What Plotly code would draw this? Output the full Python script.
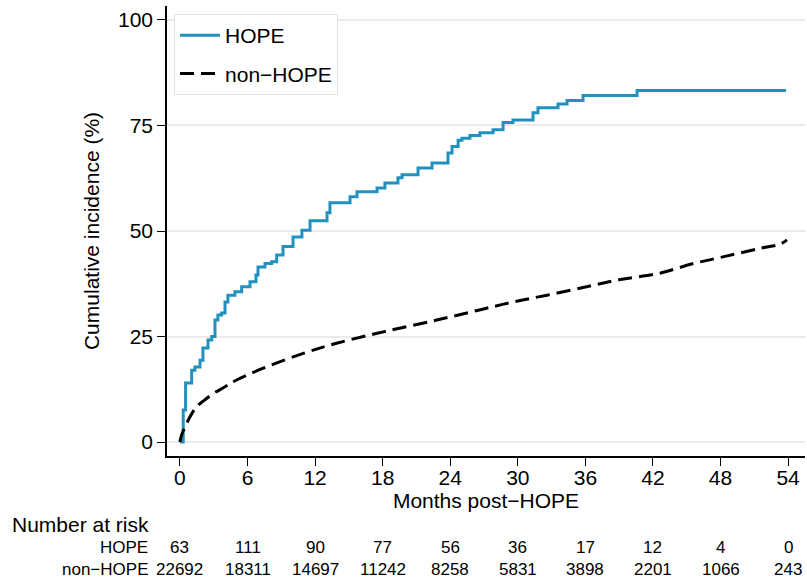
import plotly.graph_objects as go

# HOPE cumulative incidence (step function): month, percent
hope_t = [0, 0.29, 0.5, 1.04, 1.33, 1.78, 2.04, 2.49, 2.82, 3.11, 3.37, 3.70, 4.0, 4.26, 4.88,
          5.48, 6.22, 6.75, 6.93, 7.55, 8.14, 8.59, 9.15, 10.04, 10.83, 11.55, 13.06, 13.32,
          15.1, 15.72, 17.5, 18.2, 19.36, 19.72, 21.14, 22.38, 23.8, 24.16, 24.7, 25.04, 25.75,
          26.64, 27.8, 28.69, 29.57, 31.35, 31.79, 33.57, 34.37, 35.79, 40.59, 53.82]
hope_y = [0, 7.6, 14, 17, 17.8, 19.4, 22.3, 24.2, 25, 28.9, 30.1, 30.6, 33.2, 34.8, 35.6,
          36.8, 38, 39.6, 41.5, 42.3, 42.7, 44.3, 46.3, 48.6, 50.2, 52.4, 54.3, 56.7,
          58.1, 59.3, 60.2, 61.4, 62.6, 63.3, 64.9, 66.1, 68.5, 70, 71.5, 72, 72.6,
          73.3, 74, 75.7, 76.3, 78, 79.2, 80.1, 80.9, 82.1, 83.3, 83.3]

# non-HOPE cumulative incidence
non_t = [0, 0.1, 0.3, 0.59, 1.0, 1.48, 2.2, 2.96, 4.0, 5.03, 7.4, 10.95, 13.9, 18.06, 22.8,
         26.6, 29.6, 32.6, 36.1, 39.1, 42.6, 45.6, 48.6, 51.5, 53.3, 53.9]
non_y = [0, 1.3, 2.7, 4.4, 6.5, 8.4, 10.0, 11.5, 13.1, 14.7, 17.5, 21.0, 23.4, 26.1, 28.9,
         31.3, 33.2, 34.8, 36.8, 38.5, 40.0, 42.3, 44.1, 45.9, 46.9, 47.9]

x_ticks = [0, 6, 12, 18, 24, 30, 36, 42, 48, 54]
y_ticks = [0, 25, 50, 75, 100]
risk_hope = [63, 111, 90, 77, 56, 36, 17, 12, 4, 0]
risk_non = [22692, 18311, 14697, 11242, 8258, 5831, 3898, 2201, 1066, 243]

FONT = "Liberation Sans, Arial, sans-serif"
BLUE = "#2192bf"

fig = go.Figure()
fig.add_trace(go.Scatter(x=hope_t, y=hope_y, mode="lines", name="HOPE",
                         line=dict(color=BLUE, width=3, shape="hv"), legendgroup="a"))
fig.add_trace(go.Scatter(x=non_t, y=non_y, mode="lines", name="non\u2212HOPE",
                         line=dict(color="black", width=3, dash="14px,7px", shape="spline"),
                         legendgroup="b"))

ann = []
ann.append(dict(text="Number at risk", xref="paper", yref="paper", x=-0.246, y=-0.153,
                xanchor="left", yanchor="middle", showarrow=False,
                font=dict(size=21, color="black", family=FONT)))
for lbl, yy in [("HOPE", -0.204), ("non\u2212HOPE", -0.253)]:
    ann.append(dict(text=lbl, xref="paper", yref="paper", x=-0.026, y=yy,
                    xanchor="right", yanchor="middle", showarrow=False,
                    font=dict(size=17, color="black", family=FONT)))
for xt, a, b in zip(x_ticks, risk_hope, risk_non):
    ann.append(dict(text=str(a), xref="x", yref="paper", x=xt, y=-0.204,
                    xanchor="center", yanchor="middle", showarrow=False,
                    font=dict(size=17, color="black", family=FONT)))
    ann.append(dict(text=str(b), xref="x", yref="paper", x=xt, y=-0.253,
                    xanchor="center", yanchor="middle", showarrow=False,
                    font=dict(size=17, color="black", family=FONT)))

fig.update_layout(
    width=807, height=585,
    margin=dict(l=167, r=2, t=6, b=129, autoexpand=False),
    plot_bgcolor="white", paper_bgcolor="white",
    font=dict(family=FONT, size=21, color="black"),
    annotations=ann,
    legend=dict(x=0.011, y=0.982, xanchor="left", yanchor="top",
                bordercolor="#e3e3e3", borderwidth=1, bgcolor="white",
                font=dict(size=21, family=FONT), tracegroupgap=8, itemwidth=40),
    xaxis=dict(range=[-1.15, 55.5], tickvals=x_ticks, ticks="outside", ticklen=8,
               tickwidth=1.3, tickcolor="black", showline=True, linecolor="black",
               linewidth=1.5, showgrid=False, zeroline=False, automargin=False,
               ticklabelstandoff=-6,
               title=dict(text="Months post\u2212HOPE", standoff=0, font=dict(size=21)),
               tickfont=dict(size=21)),
    yaxis=dict(range=[-3.3, 103.3], tickvals=y_ticks, ticks="outside", ticklen=8,
               tickwidth=1.3, tickcolor="black", showline=True, linecolor="black",
               linewidth=1.5, showgrid=True, gridcolor="#ebebeb", gridwidth=2,
               zeroline=False, automargin=False,
               title=dict(text="Cumulative incidence (%)", standoff=13, font=dict(size=21)),
               tickfont=dict(size=21)),
)

fig.write_html("out.html", config={"displayModeBar": False},
               post_script="document.body.style.margin='0';document.body.style.padding='0';")
